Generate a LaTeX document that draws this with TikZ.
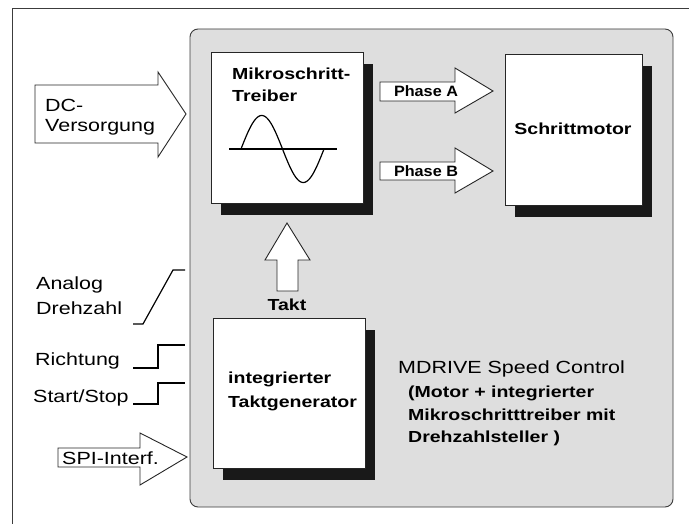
\documentclass[tikz,border=0pt]{standalone}
\usepackage{fontspec}
\setmainfont[FakeStretch=1.22]{Liberation Sans}
\newfontfamily\phasefont[FakeStretch=1.08]{Liberation Sans}
\usetikzlibrary{shadows}
\definecolor{panel}{RGB}{222,222,222}
\definecolor{frame}{RGB}{60,60,60}
\begin{document}
\begin{tikzpicture}[x=1pt,y=-1pt,
  box/.style={draw=black!85, fill=white, line width=0.9pt, inner sep=0,
    drop shadow={shadow xshift=10pt, shadow yshift=-12pt, opacity=1, fill=black!90}},
  fatarrow/.style={draw=black!85, fill=white, line width=0.9pt, line join=miter},
  sig/.style={draw=black, line width=1.2pt},
  lbl/.style={anchor=base west, inner sep=0, font=\fontsize{17.6}{20}\selectfont},
  blbl/.style={anchor=base west, inner sep=0, font=\fontsize{16}{18}\selectfont\bfseries},
  plbl/.style={anchor=base, inner sep=0, font=\fontsize{15}{18}\phasefont\bfseries}]
\useasboundingbox (0,0) rectangle (689,524);
\fill[white] (0,0) rectangle (689,524);

% outer frame
\draw[frame, line width=0.9pt] (12,524) -- (12,8) -- (689,8);

% device panel
\draw[frame, fill=panel, line width=0.9pt, rounded corners=8pt] (190,29) rectangle (673,507);

% blocks
\node[box, minimum width=152, minimum height=151, anchor=north west] (drv) at (211,52) {};
\node[box, minimum width=137, minimum height=151, anchor=north west] (mot) at (505,54) {};
\node[box, minimum width=152, minimum height=150, anchor=north west] (gen) at (213,318) {};

% sine symbol in the driver block
\draw[line width=1.2pt] (229,149) -- (337,149);
\draw[line width=1.2pt] plot[domain=0:360, samples=80, smooth] ({241+\x/360*83},{149-33.5*sin(\x)});

% block texts
\node[blbl] (drv1) at (232,80) {Mikroschritt-};
\node[blbl] (drv2) at (232,102) {Treiber};
\node[blbl, anchor=base] (motl) at (573,135) {Schrittmotor};
\node[blbl] (gen1) at (228,383) {integrierter};
\node[blbl] (gen2) at (228,407) {Taktgenerator};

% phase arrows
\draw[fatarrow] (380,82) -- (455,82) -- (455,68) -- (493,91) -- (455,113) -- (455,101) -- (380,101) -- cycle;
\draw[fatarrow] (380,162) -- (455,162) -- (455,148) -- (493,171) -- (455,193) -- (455,180) -- (380,180) -- cycle;
\node[plbl] (pa) at (426,97) {Phase A};
\node[plbl] (pb) at (426,177) {Phase B};

% clock arrow
\draw[fatarrow] (277,291) -- (277,260) -- (265,260) -- (287,223) -- (310,260) -- (298,260) -- (298,291) -- cycle;
\node[blbl, anchor=base] (takt) at (287,310) {Takt};

% supply arrow
\draw[fatarrow] (35,85) -- (158,85) -- (158,72) -- (186,114) -- (158,157) -- (158,143) -- (35,143) -- cycle;
\node[lbl] (dc1) at (45,112) {DC-};
\node[lbl] (dc2) at (45,132) {Versorgung};

% SPI arrow
\draw[fatarrow] (58,448) -- (140,448) -- (140,433) -- (187,457) -- (140,485) -- (140,467) -- (58,467) -- cycle;
\node[lbl] (spi) at (62,464) {SPI-Interf.};

% control signals
\draw[sig] (133,324) -- (143,324) -- (173,270) -- (185,270);
\draw[sig] (133,368) -- (158,368) -- (158,345) -- (185,345);
\draw[sig] (133,404) -- (158,404) -- (158,383) -- (185,383);
\node[lbl] (an1) at (36,290) {Analog};
\node[lbl] (an2) at (36,314) {Drehzahl};
\node[lbl] (dir) at (35,365) {Richtung};
\node[lbl] (ss) at (33,402) {Start/Stop};

% product caption
\node[lbl] (cap0) at (398,373) {MDRIVE Speed Control};
\node[blbl] (cap1) at (408,397) {(Motor + integrierter};
\node[blbl] (cap2) at (408,420) {Mikroschritttreiber mit};
\node[blbl] (cap3) at (408,442) {Drehzahlsteller )};
\end{tikzpicture}
\end{document}
